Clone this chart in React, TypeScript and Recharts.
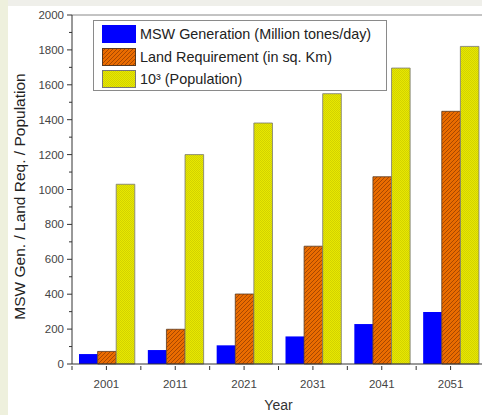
import React from 'react';
import {
  ComposedChart,
  Bar,
  XAxis,
  YAxis,
  Legend,
  ReferenceLine,
} from 'recharts';

const years = ['2001', '2011', '2021', '2031', '2041', '2051'];
const mswGeneration = [57, 80, 107, 158, 229, 298];
const landRequirement = [72, 199, 401, 675, 1073, 1448];
const population = [1030, 1200, 1381, 1549, 1696, 1820];
const yTicks = [0, 100, 200, 300, 400, 500, 600, 700, 800, 900, 1000, 1100, 1200, 1300, 1400, 1500, 1600, 1700, 1800, 1900, 2000];
const seriesOrder = ['msw', 'land', 'pop'];

const data = years.map((year, i) => ({
  year,
  msw: mswGeneration[i],
  land: landRequirement[i],
  pop: population[i],
}));

const FONT = '"Liberation Sans", Arial, sans-serif';

const YTick = ({ x, y, payload }: any) => {
  const major = payload.value % 200 === 0;
  return (
    <g>
      <line x1={x - (major ? 5 : 3)} x2={x} y1={y} y2={y} stroke="#333" strokeWidth={1} />
      {major && (
        <text x={x - 8} y={y} dy="0.35em" textAnchor="end" fontSize={11.5} fill="#444" fontFamily={FONT}>
          {payload.value}
        </text>
      )}
    </g>
  );
};

const XTick = ({ x, y, payload }: any) => {
  const half = payload.offset || 34.4;
  return (
    <g>
      <line x1={x} x2={x} y1={y} y2={y + 4} stroke="#333" />
      <line x1={x + half} x2={x + half} y1={y} y2={y + 4} stroke="#333" />
      {payload.index === 0 && <line x1={x - half} x2={x - half} y1={y} y2={y + 4} stroke="#333" />}
      <text x={x} y={y + 18} dy="0.35em" textAnchor="middle" fontSize={11.5} fill="#444" fontFamily={FONT}>
        {payload.value}
      </text>
    </g>
  );
};

const YLabel = ({ viewBox }: any) => {
  const vb = viewBox || { x: 0, y: 9, width: 64, height: 349 };
  const cx = vb.x + 11;
  const cy = vb.y + vb.height / 2 + 7;
  return (
    <text
      x={cx}
      y={cy}
      transform={`rotate(-90 ${cx} ${cy})`}
      textAnchor="middle"
      dominantBaseline="central"
      fontSize={15.5}
      fill="#222"
      fontFamily={FONT}
    >
      MSW Gen. / Land Req. / Population
    </text>
  );
};

const fills: Record<string, { fill: string; stroke: string }> = {
  msw: { fill: '#0000ff', stroke: '#0000ff' },
  land: { fill: 'url(#hatchOrange)', stroke: '#5a3a20' },
  pop: { fill: 'url(#checkYellow)', stroke: '#777' },
};

const LegendBox = ({ payload }: any) => {
  const items = [...(payload || [])].sort(
    (a: any, b: any) => seriesOrder.indexOf(a.dataKey) - seriesOrder.indexOf(b.dataKey)
  );
  return (
    <div
      style={{
        width: 292,
        height: 67,
        border: '1px solid #8a8a8a',
        background: '#fff',
        fontFamily: FONT,
        fontSize: 14.4,
        color: '#222',
        paddingTop: 2,
        boxSizing: 'content-box',
      }}
    >
      {items.map((entry: any) => {
        const f = fills[entry.dataKey] || { fill: entry.color, stroke: entry.color };
        return (
          <div key={entry.dataKey} style={{ display: 'flex', alignItems: 'center', height: 22.5 }}>
            <svg width={34} height={18} style={{ marginLeft: 8, marginRight: 4 }}>
              <rect x={0.5} y={0.5} width={33} height={17} fill={f.fill} stroke={f.stroke} />
            </svg>
            <span style={{ whiteSpace: 'nowrap' }}>{entry.value}</span>
          </div>
        );
      })}
    </div>
  );
};

export default function App() {
  return (
    <div
      style={{
        position: 'absolute',
        left: 0,
        top: 0,
        width: 482,
        height: 415,
        overflow: 'hidden',
        background: '#eef0dd',
      }}
    >
      <div style={{ position: 'absolute', left: 8, top: 0, width: 474, height: 6, background: '#efefea' }} />
      <div
        style={{
          position: 'absolute',
          left: 8,
          top: 6,
          width: 474,
          height: 409,
          overflow: 'hidden',
          background: '#fff',
        }}
      >
        <ComposedChart
          width={480}
          height={409}
          data={data}
          barGap={0}
          margin={{ top: 9, right: 3, left: 0, bottom: 0 }}
        >
          <defs>
            <pattern id="hatchOrange" patternUnits="userSpaceOnUse" width={4} height={4}>
              <rect width={4} height={4} fill="#ea6c00" />
              <path d="M-1,1 l2,-2 M0,4 l4,-4 M3,5 l2,-2" stroke="#a84800" strokeWidth={1} />
            </pattern>
            <pattern id="checkYellow" patternUnits="userSpaceOnUse" width={2} height={2}>
              <rect width={2} height={2} fill="#e8e800" />
              <rect width={1} height={1} fill="#d2d200" />
              <rect x={1} y={1} width={1} height={1} fill="#d2d200" />
            </pattern>
          </defs>
          <XAxis
            dataKey="year"
            height={51}
            tickLine={false}
            tickSize={0}
            stroke="#333"
            tick={<XTick />}
            interval={0}
            label={{ value: 'Year', position: 'insideBottom', offset: 5, fontSize: 14, fill: '#333', fontFamily: FONT }}
          />
          <YAxis
            width={64}
            domain={[0, 2000]}
            ticks={yTicks}
            interval={0}
            tickLine={false}
            tickSize={0}
            tickMargin={0}
            stroke="#333"
            tick={<YTick />}
            label={{ content: <YLabel /> }}
          />
          <ReferenceLine y={2000} stroke="#888" strokeWidth={1} />
          <Legend
            layout="vertical"
            align="center"
            verticalAlign="middle"
            content={<LegendBox />}
            wrapperStyle={{ left: 85, top: 14, width: 296 }}
          />
          <Bar
            dataKey="msw"
            name="MSW Generation (Million tones/day)"
            fill="#0000ff"
            barSize={18.6}
            isAnimationActive={false}
          />
          <Bar
            dataKey="land"
            name="Land Requirement (in sq. Km)"
            fill="url(#hatchOrange)"
            stroke="#5a3a20"
            strokeWidth={0.8}
            barSize={18.6}
            isAnimationActive={false}
          />
          <Bar
            dataKey="pop"
            name="10³ (Population)"
            fill="url(#checkYellow)"
            stroke="#777"
            strokeWidth={0.8}
            barSize={18.6}
            isAnimationActive={false}
          />
        </ComposedChart>
      </div>
    </div>
  );
}
